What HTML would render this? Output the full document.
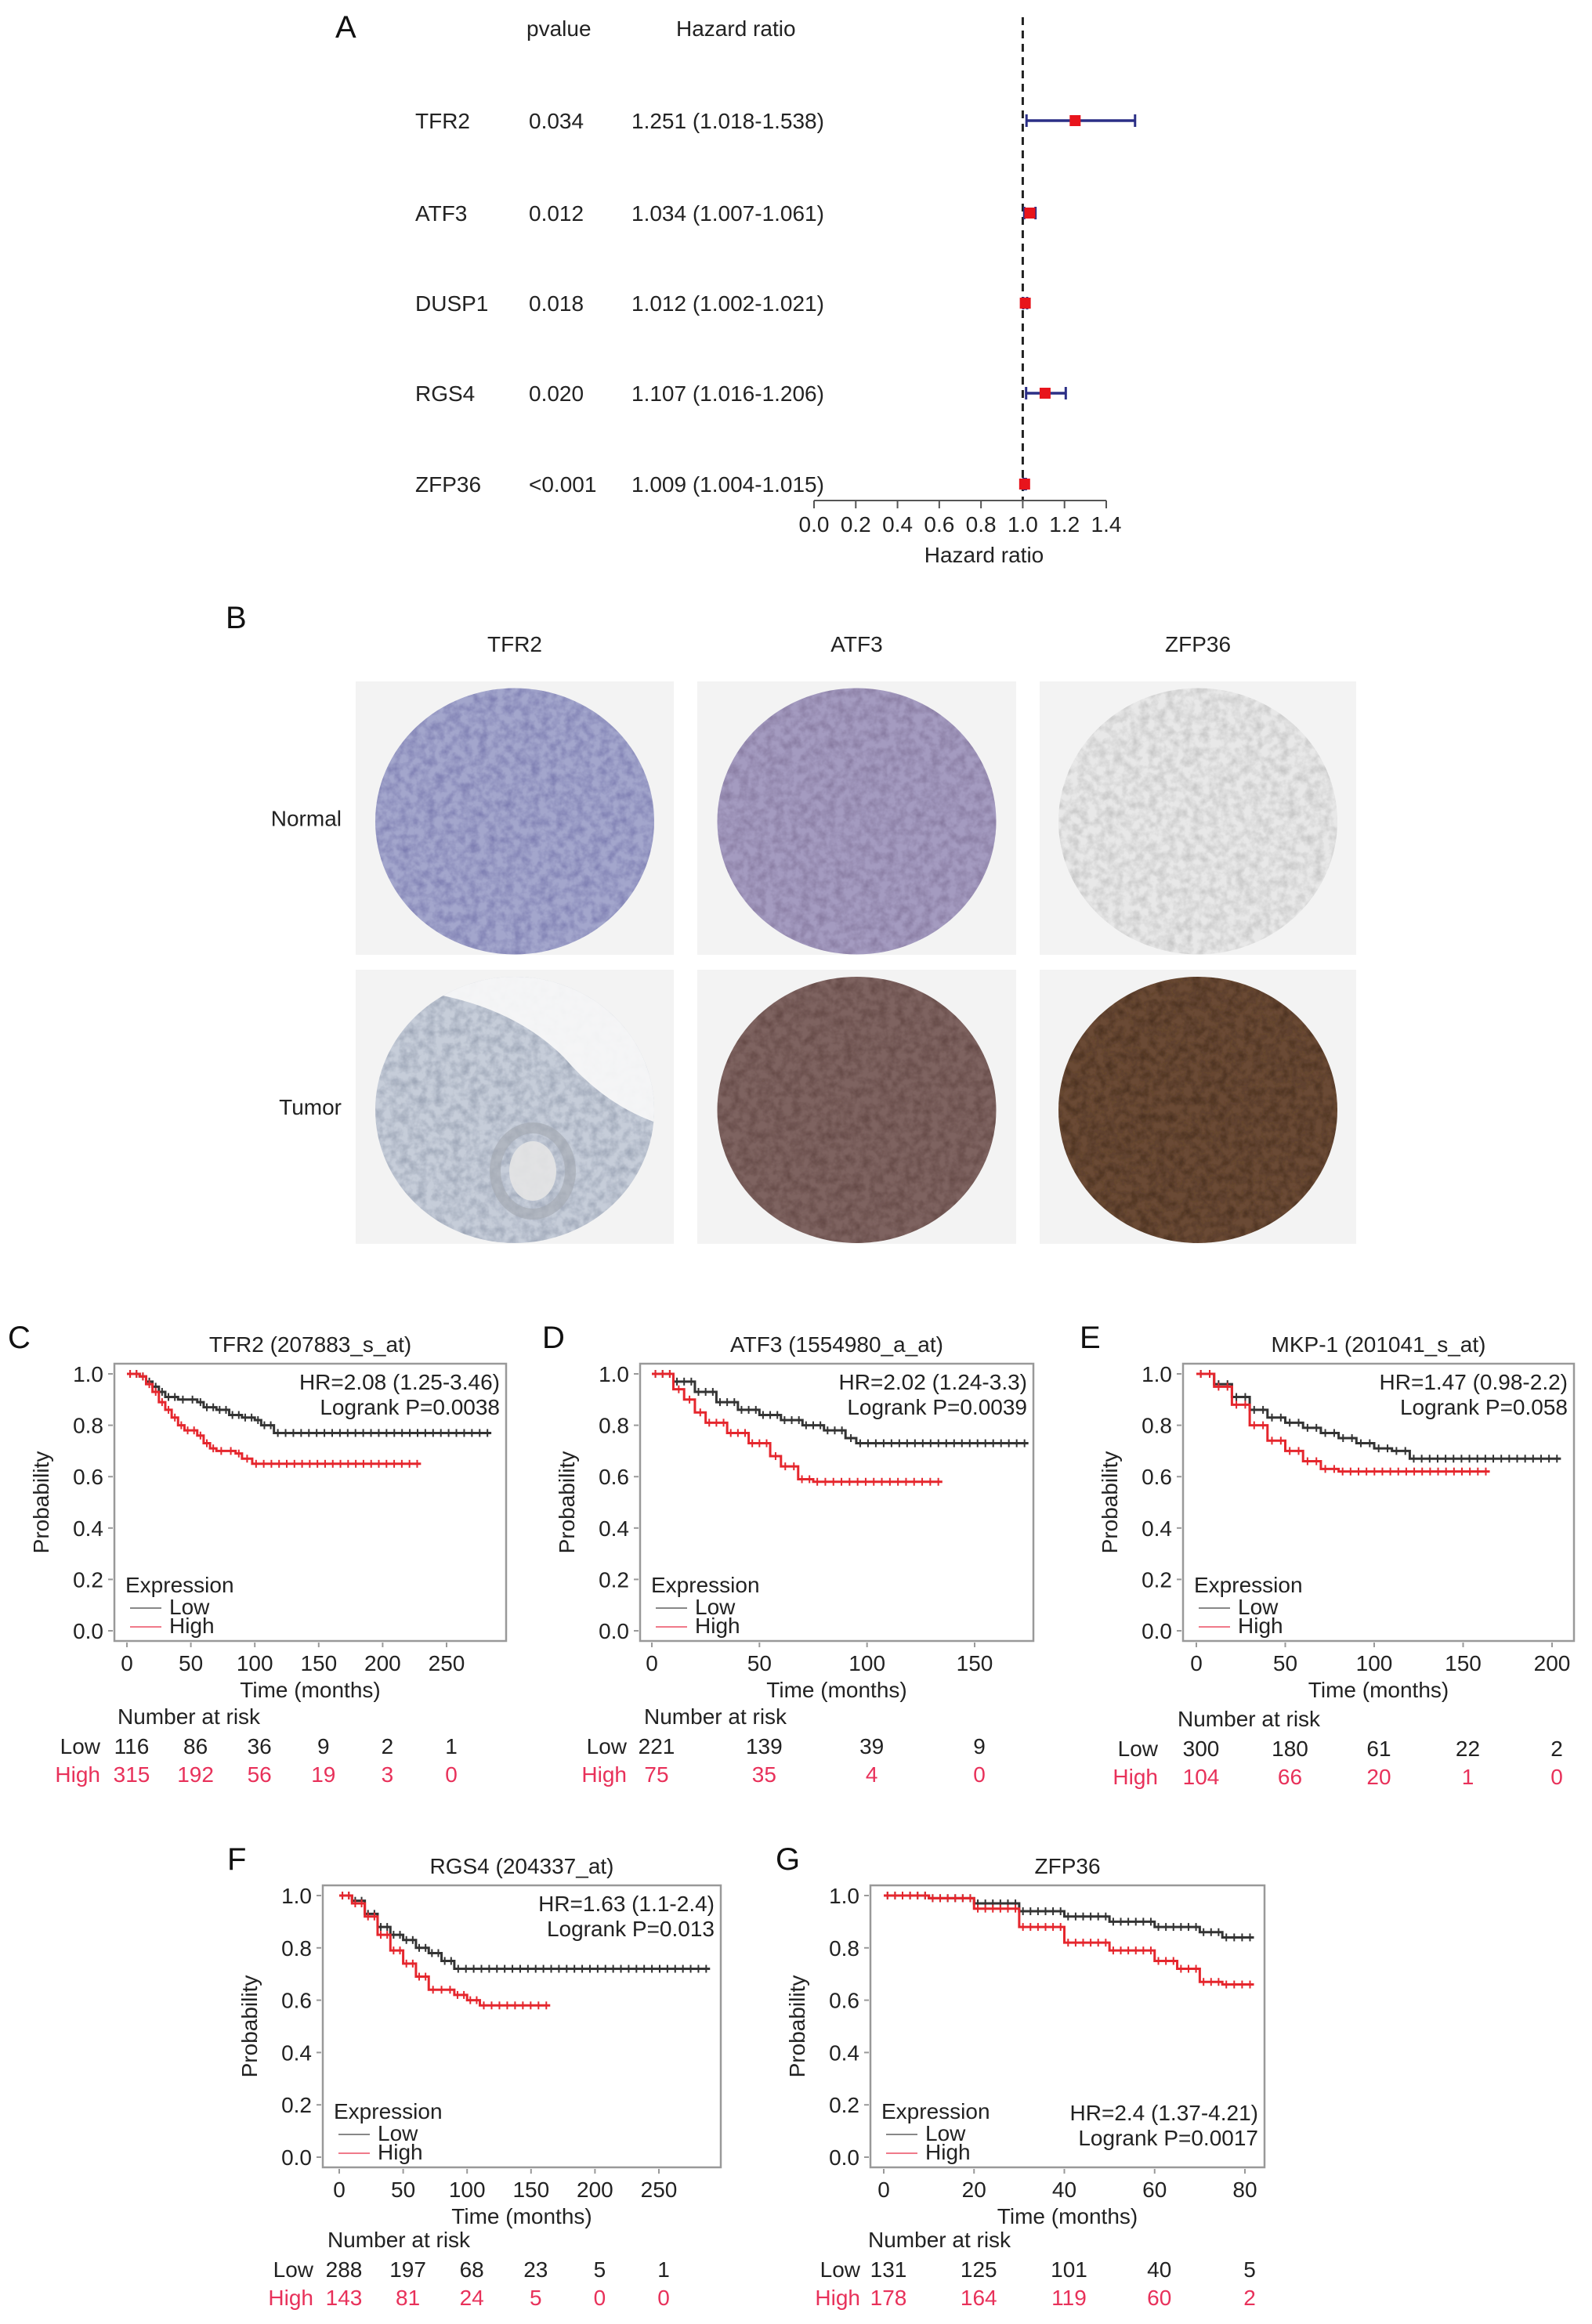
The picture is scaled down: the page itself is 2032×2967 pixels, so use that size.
<!DOCTYPE html>
<html><head><meta charset="utf-8">
<style>
html,body{margin:0;padding:0;background:#fff;}
svg{display:block;font-family:"Liberation Sans",Arial,sans-serif;}
</style></head>
<body>
<svg id="fig" width="2032" height="2967" viewBox="0 0 2032 2967" xmlns="http://www.w3.org/2000/svg">
<defs>
<filter id="tex" x="0" y="0" width="100%" height="100%">
<feTurbulence type="fractalNoise" baseFrequency="0.09" numOctaves="3" seed="4" result="n"/>
<feColorMatrix type="matrix" values="0 0 0 0 0  0 0 0 0 0  0 0 0 0 0  0 0 0 -1.6 1.05" in="n" result="a"/>
<feComposite in="SourceGraphic" in2="a" operator="in"/>
</filter>
<clipPath id="tfrTumorClip"><ellipse cx="657" cy="1417" rx="178" ry="170"/></clipPath>
</defs>
<g id="panelA"></g>
<g id="panelB"></g>
<g id="panelKM"></g>
</svg>
<script>
// ---------- Forest plot data ----------
const fGenes = ["TFR2","ATF3","DUSP1","RGS4","ZFP36"];
const fPvals = ["0.034","0.012","0.018","0.020","<0.001"];
const fHR = [1.251,1.034,1.012,1.107,1.009];
const fLo = [1.018,1.007,1.002,1.016,1.004];
const fHi = [1.538,1.061,1.021,1.206,1.015];
const fTicks = [0.0,0.2,0.4,0.6,0.8,1.0,1.2,1.4];

// ---------- KM data ----------
const cLowT=[0,10,15,20,25,30,40,55,60,70,80,90,100,105,115,285];
const cLowS=[1,0.99,0.97,0.95,0.93,0.91,0.9,0.89,0.87,0.86,0.84,0.83,0.82,0.80,0.77,0.77];
const cHighT=[0,10,15,20,25,30,35,40,45,55,60,65,70,85,90,98,230];
const cHighS=[1,0.99,0.96,0.93,0.89,0.86,0.83,0.80,0.78,0.76,0.73,0.71,0.70,0.69,0.67,0.65,0.65];
const dLowT=[0,10,20,30,40,50,60,70,80,90,95,175];
const dLowS=[1,0.97,0.93,0.89,0.86,0.84,0.82,0.80,0.78,0.75,0.73,0.73];
const dHighT=[0,10,15,20,25,35,45,55,60,68,75,135];
const dHighS=[1,0.94,0.90,0.85,0.81,0.77,0.73,0.68,0.64,0.59,0.58,0.58];
const eLowT=[0,10,20,30,40,50,60,70,80,90,100,110,120,205];
const eLowS=[1,0.96,0.91,0.86,0.83,0.81,0.79,0.77,0.75,0.73,0.71,0.70,0.67,0.67];
const eHighT=[0,10,20,30,40,50,60,70,80,165];
const eHighS=[1,0.95,0.88,0.80,0.74,0.70,0.66,0.63,0.62,0.62];
const fLowT=[0,10,20,30,40,50,60,70,80,90,290];
const fLowS=[1,0.98,0.93,0.88,0.85,0.83,0.80,0.78,0.75,0.72,0.72];
const fHighT=[0,10,20,30,40,50,60,70,90,100,110,165];
const fHighS=[1,0.97,0.92,0.85,0.79,0.74,0.69,0.64,0.62,0.60,0.58,0.58];
const gLowT=[0,10,20,30,40,50,60,70,75,82];
const gLowS=[1,0.99,0.97,0.94,0.92,0.90,0.88,0.86,0.84,0.84];
const gHighT=[0,10,20,30,40,50,60,65,70,75,82];
const gHighS=[1,0.99,0.95,0.88,0.82,0.79,0.75,0.72,0.67,0.66,0.66];

const cXTicks=[0,50,100,150,200,250]; const cRiskLow=[116,86,36,9,2,1]; const cRiskHigh=[315,192,56,19,3,0];
const dXTicks=[0,50,100,150]; const dRiskLow=[221,139,39,9]; const dRiskHigh=[75,35,4,0];
const eXTicks=[0,50,100,150,200]; const eRiskLow=[300,180,61,22,2]; const eRiskHigh=[104,66,20,1,0];
const fXTicks=[0,50,100,150,200,250]; const fRiskLow=[288,197,68,23,5,1]; const fRiskHigh=[143,81,24,5,0,0];
const gXTicks=[0,20,40,60,80]; const gRiskLow=[131,125,101,40,5]; const gRiskHigh=[178,164,119,60,2];
const yTicks=[0.0,0.2,0.4,0.6,0.8,1.0];

const NS="http://www.w3.org/2000/svg";
const FS=28;
function mk(parent,tag,attrs,txt){const e=document.createElementNS(NS,tag);for(const k in attrs)e.setAttribute(k,attrs[k]);if(txt!==undefined)e.textContent=txt;parent.appendChild(e);return e;}

// ---------- Panel A ----------
(function(){
const g=document.getElementById('panelA');
const x0=1039,x1=1412,ax=v=>x0+(x1-x0)*v/1.4;
const rowY=[154,272,387,502,618];
let t;
t=mk(g,'text',{x:428,y:48,'font-size':40,fill:'#111'},'A');


t=mk(g,'text',{x:672,y:46,'font-size':FS,fill:'#222'},'pvalue');


t=mk(g,'text',{x:863,y:46,'font-size':FS,fill:'#222'},'Hazard ratio');


const dl=mk(g,'line',{x1:ax(1),x2:ax(1),y1:22,y2:639,stroke:'#222','stroke-width':3,'stroke-dasharray':'10,7'});


fGenes.forEach((gn,i)=>{
 const y=rowY[i];
 let e=mk(g,'text',{x:530,y:y+10,'font-size':FS,fill:'#222'},gn);
 
 
 e=mk(g,'text',{x:675,y:y+10,'font-size':FS,fill:'#222'},fPvals[i]);
 
 
 e=mk(g,'text',{x:806,y:y+10,'font-size':FS,fill:'#222'},fHR[i].toFixed(3)+' ('+fLo[i].toFixed(3)+'-'+fHi[i].toFixed(3)+')');
 
 
 e=mk(g,'line',{x1:ax(fLo[i]),x2:ax(fHi[i]),y1:y,y2:y,stroke:'#2b2f86','stroke-width':3.5});
 
 
 [fLo[i],fHi[i]].forEach(v=>{const c=mk(g,'line',{x1:ax(v),x2:ax(v),y1:y-8,y2:y+8,stroke:'#2b2f86','stroke-width':3});
 
 });
 e=mk(g,'rect',{x:ax(fHR[i])-7,y:y-7,width:14,height:14,fill:'#e8141c'});
 
 
});
let e=mk(g,'line',{x1:x0,x2:x1,y1:639,y2:639,stroke:'#555','stroke-width':2});


fTicks.forEach(v=>{mk(g,'line',{x1:ax(v),x2:ax(v),y1:639,y2:649,stroke:'#555','stroke-width':2});
 const tl=mk(g,'text',{x:ax(v),y:679,'font-size':FS,fill:'#222','text-anchor':'middle'},v.toFixed(1));
 
 });
e=mk(g,'text',{x:1256,y:718,'font-size':FS,fill:'#222','text-anchor':'middle'},'Hazard ratio');


})();

// ---------- Panel B ----------
(function(){
const g=document.getElementById('panelB');
let e=mk(g,'text',{x:288,y:802,'font-size':40,fill:'#111'},'B');


const cols=[["TFR2",454,860],["ATF3",890,1297],["ZFP36",1327,1731]];
const rows=[["Normal",870,1219],["Tumor",1238,1588]];
const fills=[["#a3a6cc","#a49bc0","#e8e8e8"],["#c6cdd9","#7e6360","#6a4a35"]];
const dark=[["#6f6fa8","#7d6f95","#b8b8b8"],["#8e98aa","#5a3f3c","#3f2818"]];
cols.forEach((c,j)=>{e=mk(g,'text',{x:(c[1]+c[2])/2,y:832,'font-size':FS,fill:'#222','text-anchor':'middle'},c[0]);

});
rows.forEach((r,i)=>{
 e=mk(g,'text',{x:436,y:(r[1]+r[2])/2+10,'font-size':FS,fill:'#222','text-anchor':'end'},r[0]);
 
 
 cols.forEach((c,j)=>{
  const bg=mk(g,'rect',{x:c[1],y:r[1],width:c[2]-c[1],height:r[2]-r[1],fill:'#f3f3f3'});
  
  
  const cx=(c[1]+c[2])/2,cy=(r[1]+r[2])/2;
  mk(g,'ellipse',{cx:cx,cy:cy+4,rx:178,ry:170,fill:fills[i][j]});
  mk(g,'ellipse',{cx:cx,cy:cy+4,rx:178,ry:170,fill:dark[i][j],filter:'url(#tex)',opacity:0.8});
 });
});
// fat region (upper right) and duct in tumor TFR2
const cg=mk(g,'g',{'clip-path':'url(#tfrTumorClip)'});
mk(cg,'path',{d:'M560 1240 L860 1240 L860 1440 Q780 1420 720 1350 Q660 1290 560 1270 Z',fill:'#f8f8f8',opacity:0.92});
mk(cg,'ellipse',{cx:680,cy:1495,rx:48,ry:55,fill:'none',stroke:'#a4a9b0','stroke-width':14,opacity:0.6});
mk(cg,'ellipse',{cx:680,cy:1495,rx:30,ry:38,fill:'#e4e4e4',opacity:0.9});
})();

// ---------- KM panels ----------
function km(cfg){
 const g=mk(document.getElementById('panelKM'),'g',{});
 
 
 const {bx0,bx1,by0,by1,x0px,tmax,tmaxPx}=cfg;
 const yTop=by0+13,yBot=by1-13;
 const X=t=>x0px+(tmaxPx-x0px)*t/tmax;
 const Y=s=>yBot-(yBot-yTop)*s;
 let e=mk(g,'text',{x:cfg.lx,y:by0-20,'font-size':40,fill:'#111'},cfg.label);
 
 
 e=mk(g,'text',{x:(bx0+bx1)/2,y:by0-15,'font-size':FS,fill:'#222','text-anchor':'middle'},cfg.title);
 
 
 e=mk(g,'rect',{x:bx0,y:by0,width:bx1-bx0,height:by1-by0,fill:'none',stroke:'#999','stroke-width':2.5});
 
 
 yTicks.forEach(v=>{mk(g,'line',{x1:bx0-8,x2:bx0-2,y1:Y(v),y2:Y(v),stroke:'#999','stroke-width':2});
  const tl=mk(g,'text',{x:bx0-14,y:Y(v)+10,'font-size':FS,fill:'#222','text-anchor':'end'},v.toFixed(1));
  
  });
 cfg.xt.forEach(v=>{mk(g,'line',{x1:X(v),x2:X(v),y1:by1+2,y2:by1+8,stroke:'#999','stroke-width':2});
  const tl=mk(g,'text',{x:X(v),y:by1+38,'font-size':FS,fill:'#222','text-anchor':'middle'},v);
  
  });
 e=mk(g,'text',{x:(bx0+bx1)/2,y:by1+72,'font-size':FS,fill:'#222','text-anchor':'middle'},'Time (months)');
 
 
 e=mk(g,'text',{x:bx0-84,y:(by0+by1)/2,'font-size':FS,fill:'#222','text-anchor':'middle',transform:`rotate(-90 ${bx0-84} ${(by0+by1)/2})`},'Probability');
 
 
 const series=[[cfg.lowT,cfg.lowS,'#333'],[cfg.highT,cfg.highS,'#e5262d']];
 series.forEach((s,k)=>{
  const [T,S,col]=s;
  let d=`M${X(T[0])},${Y(S[0])}`;
  for(let i=1;i<T.length;i++){d+=` H${X(T[i])} V${Y(S[i])}`;}
  const p=mk(g,'path',{d:d,fill:'none',stroke:col,'stroke-width':3});
  
  
  for(let i=1;i<T.length;i++){
   const n=Math.max(1,Math.round((X(T[i])-X(T[i-1]))/10));
   for(let m=0;m<n;m++){const tt=T[i-1]+(T[i]-T[i-1])*(m+0.5)/n;
    mk(g,'line',{x1:X(tt),x2:X(tt),y1:Y(S[i-1])-5,y2:Y(S[i-1])+5,stroke:col,'stroke-width':2});}
  }
 });
 const ta=cfg.hrBottom?[by1-60,by1-28]:[by0+33,by0+65];
 e=mk(g,'text',{x:bx1-8,y:ta[0],'font-size':FS,fill:'#222','text-anchor':'end'},cfg.hr);
 
 
 e=mk(g,'text',{x:bx1-8,y:ta[1],'font-size':FS,fill:'#222','text-anchor':'end'},cfg.p);
 
 
 const lx=bx0+14;
 e=mk(g,'text',{x:lx,y:by1-62,'font-size':FS,fill:'#222'},'Expression');
 
 
 mk(g,'line',{x1:lx+6,x2:lx+46,y1:by1-42,y2:by1-42,stroke:'#888','stroke-width':2});
 e=mk(g,'text',{x:lx+56,y:by1-34,'font-size':FS,fill:'#222'},'Low');
 
 
 mk(g,'line',{x1:lx+6,x2:lx+46,y1:by1-18,y2:by1-18,stroke:'#f07a8a','stroke-width':2});
 e=mk(g,'text',{x:lx+56,y:by1-10,'font-size':FS,fill:'#222'},'High');
 
 
 // risk table
 e=mk(g,'text',{x:cfg.nx,y:cfg.ry,'font-size':FS,fill:'#222'},'Number at risk');
 
 
 e=mk(g,'text',{x:cfg.rl,y:cfg.ry+38,'font-size':FS,fill:'#222','text-anchor':'end'},'Low');
 
 
 e=mk(g,'text',{x:cfg.rl,y:cfg.ry+74,'font-size':FS,fill:'#e8315a','text-anchor':'end'},'High');
 
 
 cfg.xt.forEach((v,i)=>{
  let r=mk(g,'text',{x:X(v)+6,y:cfg.ry+38,'font-size':FS,fill:'#222','text-anchor':'middle'},cfg.rLow[i]);
  
  
  r=mk(g,'text',{x:X(v)+6,y:cfg.ry+74,'font-size':FS,fill:'#e8315a','text-anchor':'middle'},cfg.rHigh[i]);
  
  
 });
}
km({label:'C',lx:10,title:'TFR2 (207883_s_at)',bx0:146,bx1:646,by0:1741,by1:2095,x0px:162,tmax:250,tmaxPx:570,xt:cXTicks,lowT:cLowT,lowS:cLowS,highT:cHighT,highS:cHighS,hr:'HR=2.08 (1.25-3.46)',p:'Logrank P=0.0038',nx:150,rl:128,ry:2201,rLow:cRiskLow,rHigh:cRiskHigh});
km({label:'D',lx:692,title:'ATF3 (1554980_a_at)',bx0:817,bx1:1319,by0:1741,by1:2095,x0px:832,tmax:150,tmaxPx:1244,xt:dXTicks,lowT:dLowT,lowS:dLowS,highT:dHighT,highS:dHighS,hr:'HR=2.02 (1.24-3.3)',p:'Logrank P=0.0039',nx:822,rl:800,ry:2201,rLow:dRiskLow,rHigh:dRiskHigh});
km({label:'E',lx:1378,title:'MKP-1 (201041_s_at)',bx0:1510,bx1:2009,by0:1741,by1:2095,x0px:1527,tmax:200,tmaxPx:1981,xt:eXTicks,lowT:eLowT,lowS:eLowS,highT:eHighT,highS:eHighS,hr:'HR=1.47 (0.98-2.2)',p:'Logrank P=0.058',nx:1503,rl:1478,ry:2204,rLow:eRiskLow,rHigh:eRiskHigh});
km({label:'F',lx:290,title:'RGS4 (204337_at)',bx0:412,bx1:920,by0:2407,by1:2767,x0px:433,tmax:250,tmaxPx:841,xt:fXTicks,lowT:fLowT,lowS:fLowS,highT:fHighT,highS:fHighS,hr:'HR=1.63 (1.1-2.4)',p:'Logrank P=0.013',nx:418,rl:400,ry:2869,rLow:fRiskLow,rHigh:fRiskHigh});
km({label:'G',lx:990,title:'ZFP36',bx0:1111,bx1:1614,by0:2407,by1:2767,x0px:1128,tmax:80,tmaxPx:1589,xt:gXTicks,lowT:gLowT,lowS:gLowS,highT:gHighT,highS:gHighS,hr:'HR=2.4 (1.37-4.21)',p:'Logrank P=0.0017',hrBottom:true,nx:1108,rl:1098,ry:2869,rLow:gRiskLow,rHigh:gRiskHigh});
</script>
</body></html>
